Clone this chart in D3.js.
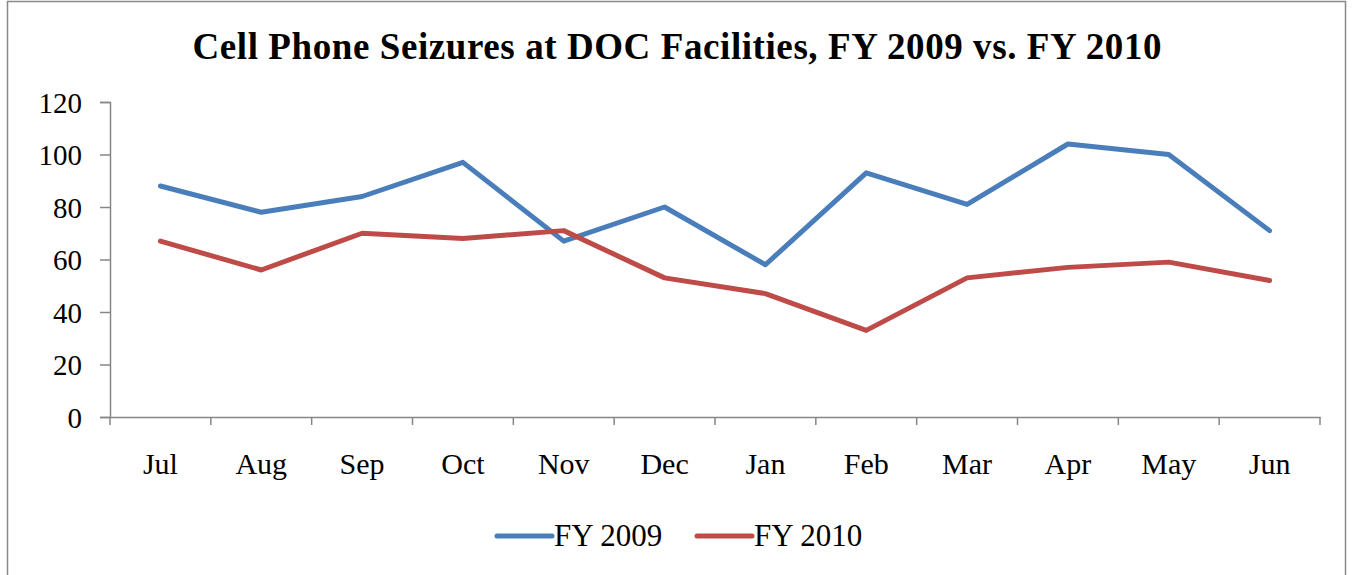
<!DOCTYPE html>
<html>
<head>
<style>
  body { margin: 0; background: #fff; }
</style>
</head>
<body>
<div id="chart"></div>
<script src="https://cdn.jsdelivr.net/npm/d3@7"></script>
<script>
var months = ["Jul", "Aug", "Sep", "Oct", "Nov", "Dec", "Jan", "Feb", "Mar", "Apr", "May", "Jun"];
var fy2009 = [88, 78, 84, 97, 67, 80, 58, 93, 81, 104, 100, 71];
var fy2010 = [67, 56, 70, 68, 71, 53, 47, 33, 53, 57, 59, 52];
var yTicks = [0, 20, 40, 60, 80, 100, 120];
var seriesNames = ["FY 2009", "FY 2010"];
var colors = ["#4A7EBB", "#BE4B48"];

var serif = "'Liberation Serif', 'Times New Roman', Times, serif";

var W = 1354, H = 575;
var margin = {top: 102, right: 34, bottom: 158, left: 110};
var width = W - margin.left - margin.right,
    height = H - margin.top - margin.bottom;

var svg = d3.select("#chart").append("svg")
  .attr("width", W).attr("height", H)
  .style("font-family", serif);

// outer border
svg.append("rect")
  .attr("x", 7.5).attr("y", 1.5)
  .attr("width", 1338).attr("height", 580)
  .attr("fill", "none").attr("stroke", "#888").attr("stroke-width", 1.5);

svg.append("text")
  .attr("x", 677).attr("y", 59)
  .attr("text-anchor", "middle")
  .attr("textLength", 969).attr("lengthAdjust", "spacing")
  .style("font-family", serif)
  .style("font-size", "37px").style("font-weight", "bold")
  .text("Cell Phone Seizures at DOC Facilities, FY 2009 vs. FY 2010");

var g = svg.append("g")
  .attr("transform", "translate(" + margin.left + "," + margin.top + ")");

var x = d3.scaleBand().domain(months).range([0, width]);
var y = d3.scaleLinear().domain([0, 120]).range([height, 0]);

// y axis
var yAxis = g.append("g")
  .call(d3.axisLeft(y).tickValues(yTicks).tickSize(10).tickPadding(18));
yAxis.attr("font-family", null);
yAxis.selectAll("text")
  .style("font-family", serif).style("font-size", "29px")
  .attr("fill", "#000").attr("dy", "0.36em");

// x axis, ticks sit between the months
var xAxis = g.append("g")
  .attr("transform", "translate(0," + height + ")")
  .call(d3.axisBottom(x).tickSize(0).tickPadding(36));
xAxis.attr("font-family", null);
xAxis.selectAll("text")
  .style("font-family", serif).style("font-size", "30px")
  .attr("fill", "#000");
var bounds = months.map(function (m) { return x(m); }).concat([width]);
xAxis.selectAll(".bound").data(bounds).enter().append("line")
  .attr("x1", function (d) { return d; }).attr("x2", function (d) { return d; })
  .attr("y1", 0).attr("y2", 8)
  .attr("stroke", "#868686").attr("stroke-width", 1.5);

g.selectAll(".domain, .tick line").attr("stroke", "#868686").attr("stroke-width", 1.5);

var line = d3.line()
  .x(function (d, i) { return x(months[i]) + x.bandwidth() / 2; })
  .y(function (d) { return y(d); });

[fy2009, fy2010].forEach(function (s, i) {
  g.append("path")
    .datum(s)
    .attr("fill", "none")
    .attr("stroke", colors[i])
    .attr("stroke-width", 5)
    .attr("stroke-linejoin", "round")
    .attr("stroke-linecap", "round")
    .attr("d", line);
});

// legend
var legend = svg.append("g").attr("transform", "translate(497,536)");
var lg = legend.selectAll("g").data(seriesNames).enter().append("g")
  .attr("transform", function (d, i) { return "translate(" + (i * 200) + ",0)"; });
lg.append("line")
  .attr("x1", 0).attr("x2", 55).attr("y1", 0).attr("y2", 0)
  .attr("stroke", function (d, i) { return colors[i]; })
  .attr("stroke-width", 5).attr("stroke-linecap", "round");
lg.append("text")
  .attr("x", 57).attr("y", 10)
  .style("font-family", serif)
  .style("font-size", "31px")
  .text(function (d) { return d; });
</script>
</body>
</html>
